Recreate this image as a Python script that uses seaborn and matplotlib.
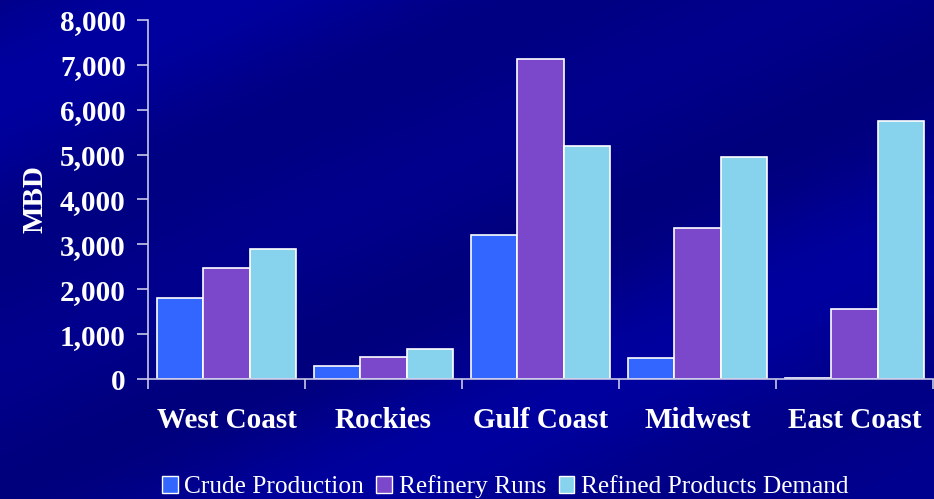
import numpy as np
import pandas as pd
import seaborn as sns
from matplotlib import pyplot as plt
from matplotlib.patches import Patch

regions = ['West Coast', 'Rockies', 'Gulf Coast', 'Midwest', 'East Coast']
series = ['Crude Production', 'Refinery Runs', 'Refined Products Demand']
crude = [1810, 300, 3220, 460, 30]
refinery = [2480, 490, 7130, 3360, 1570]
demand = [2900, 660, 5200, 4950, 5750]
colors = ['#3366FF', '#7B48CC', '#87D2EC']
yticks = range(0, 9000, 1000)

df = pd.DataFrame({'region': regions * 3,
                   'series': np.repeat(series, len(regions)),
                   'MBD': crude + refinery + demand})

sns.set_style("white")
plt.rcParams['font.family'] = ['Liberation Serif', 'DejaVu Serif']

fig = plt.figure(figsize=(9.34, 4.99), dpi=100)
fig.patch.set_facecolor('#000096')

# streaky dark-blue slide background
bg = fig.add_axes([0, 0, 1, 1], zorder=-5)
yy, xx = np.mgrid[0:499, 0:934]
u = (xx * 0.45 + yy) / 60.0
shade = np.clip(np.sin(u) * np.sin(u * 0.37 + 1.0), -1, 1)
img = np.zeros((499, 934, 3))
img[..., 2] = (140 + 20 * shade) / 255.0
bg.imshow(img, aspect='auto')
bg.axis('off')

ax = fig.add_axes([148 / 934, 1 - 379 / 499, 785 / 934, 359 / 499])
ax.set_facecolor('none')

sns.barplot(data=df, x='region', y='MBD', hue='series', palette=colors,
            width=0.883, gap=0, edgecolor='white', linewidth=1.2,
            saturation=1, legend=False, ax=ax)

ax.set_xlim(-0.5, 4.5)
ax.set_ylim(0, 8000)
ax.set_yticks(list(yticks))
ax.set_yticklabels([f'{v:,}' for v in yticks], fontsize=21, fontweight='bold', color='white')
ax.set_xticks(range(len(regions)))
ax.set_xticklabels(regions, fontsize=21, fontweight='bold', color='white')
ax.set_xticks(np.arange(-0.5, 5, 1), minor=True)
ax.tick_params(axis='x', which='major', bottom=True, length=0, pad=20)
ax.tick_params(axis='x', which='minor', bottom=True, length=7, width=1.2, color='#C8C8E8', direction='out')
ax.tick_params(axis='y', left=True, length=8, width=1.2, color='#C8C8E8', direction='out', pad=8)
ax.set_xlabel('')
ax.set_ylabel('MBD', fontsize=21, fontweight='bold', color='white', labelpad=8)

sns.despine(ax=ax)
for s in ['left', 'bottom']:
    ax.spines[s].set_color('#C8C8E8')
    ax.spines[s].set_linewidth(1.2)

handles = [Patch(facecolor=c, edgecolor='white', linewidth=1) for c in colors]
leg = fig.legend(handles, series, loc='center', bbox_to_anchor=(505 / 934, 1 - 487 / 499),
                 ncol=3, frameon=False, fontsize=18.3, handlelength=0.62, handleheight=0.62,
                 handletextpad=0.25, columnspacing=0.5, borderaxespad=0)
for t in leg.get_texts():
    t.set_color('white')

plt.savefig('out.png', dpi=100, facecolor=fig.get_facecolor())
